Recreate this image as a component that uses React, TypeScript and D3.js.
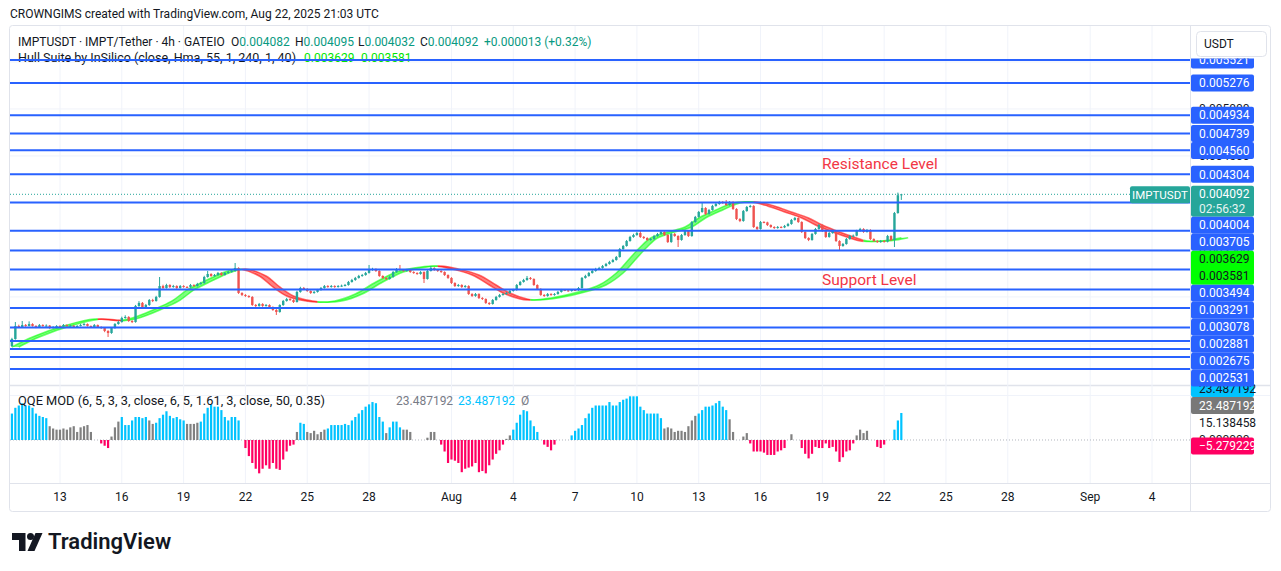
import React from 'react';
import * as d3 from 'd3';

const W = 1281;
const H = 571;
const FONT = "Roboto, 'Liberation Sans', Arial, sans-serif";

// 4h candles starting 2025-07-10 16:00 UTC, prices in millionths of USDT
const firstBar = Date.UTC(2025, 6, 10, 16);
const BAR_MS = 4 * 3600 * 1000;
const firstOpen = 2478;
const close = [
  2552, 2691, 2680, 2701, 2691, 2712, 2691, 2680, 2701, 2691,
  2695, 2669, 2680, 2691, 2688, 2701, 2691, 2694, 2680, 2691,
  2701, 2712, 2691, 2680, 2701, 2680, 2669, 2638, 2616, 2669,
  2712, 2733, 2776, 2787, 2744, 2733, 2904, 2936, 2882, 2914,
  2967, 2957, 3000, 3116, 3095, 3127, 3106, 3116, 3095, 3116,
  3106, 3104, 3127, 3116, 3138, 3148, 3212, 3244, 3223, 3233,
  3255, 3233, 3255, 3265, 3276, 3308, 3042, 3021, 3010, 3000,
  2914, 2904, 2925, 2904, 2914, 2893, 2861, 2840, 2914, 2957,
  2978, 2967, 2946, 3053, 3095, 3085, 3063, 3042, 3053, 3074,
  3095, 3116, 3106, 3116, 3106, 3116, 3120, 3127, 3159, 3180,
  3202, 3223, 3233, 3255, 3287, 3297, 3276, 3223, 3202, 3191,
  3212, 3265, 3297, 3287, 3276, 3287, 3265, 3255, 3244, 3265,
  3191, 3276, 3308, 3287, 3276, 3265, 3233, 3202, 3148, 3116,
  3127, 3106, 3116, 3031, 3010, 3031, 2989, 2978, 2936, 2925,
  2967, 3000, 3021, 3031, 3042, 3063, 3074, 3127, 3159, 3180,
  3202, 3191, 3127, 3085, 3021, 3010, 3031, 3021, 3031, 3053,
  3074, 3070, 3063, 3074, 3072, 3095, 3202, 3223, 3255, 3276,
  3297, 3308, 3329, 3351, 3372, 3393, 3425, 3510, 3542, 3595,
  3638, 3659, 3680, 3638, 3627, 3606, 3616, 3648, 3670, 3691,
  3659, 3584, 3670, 3648, 3606, 3659, 3702, 3648, 3797, 3851,
  3904, 3946, 3882, 3925, 3968, 3989, 4010, 3999, 3978, 4010,
  3936, 3829, 3808, 3914, 3957, 3968, 3744, 3723, 3797, 3793,
  3765, 3744, 3733, 3744, 3740, 3755, 3776, 3819, 3840, 3797,
  3691, 3627, 3606, 3670, 3723, 3765, 3702, 3638, 3680, 3702,
  3595, 3542, 3563, 3616, 3648, 3652, 3702, 3723, 3691, 3712,
  3616, 3595, 3584, 3595, 3588, 3648, 3606, 3893, 4082, 4092,
];
const high = [
  2565, 2733, 2705, 2744, 2712, 2740, 2720, 2699, 2712, 2709,
  2708, 2701, 2690, 2700, 2699, 2712, 2708, 2705, 2700, 2701,
  2714, 2725, 2718, 2697, 2712, 2707, 2688, 2675, 2646, 2678,
  2722, 2748, 2790, 2805, 2795, 2752, 2915, 2955, 2946, 2925,
  2978, 2980, 3012, 3212, 3130, 3140, 3135, 3128, 3124, 3127,
  3125, 3115, 3138, 3135, 3150, 3160, 3225, 3276, 3252, 3244,
  3266, 3262, 3265, 3276, 3288, 3361, 3315, 3050, 3030, 3018,
  3008, 2925, 2936, 2933, 2925, 2922, 2900, 2870, 2922, 2968,
  2990, 2988, 2975, 3065, 3108, 3106, 3093, 3070, 3064, 3085,
  3106, 3127, 3125, 3127, 3124, 3126, 3131, 3138, 3170, 3192,
  3213, 3235, 3245, 3266, 3340, 3310, 3305, 3284, 3230, 3210,
  3222, 3276, 3308, 3340, 3296, 3298, 3295, 3273, 3262, 3275,
  3272, 3287, 3329, 3316, 3295, 3284, 3272, 3240, 3210, 3156,
  3138, 3135, 3127, 3124, 3040, 3042, 3039, 2997, 2985, 2944,
  2978, 3011, 3032, 3042, 3053, 3074, 3086, 3138, 3170, 3192,
  3223, 3212, 3198, 3134, 3092, 3030, 3042, 3040, 3041, 3063,
  3085, 3084, 3078, 3084, 3083, 3106, 3212, 3236, 3266, 3288,
  3310, 3320, 3340, 3362, 3384, 3405, 3436, 3521, 3553, 3606,
  3650, 3672, 3692, 3702, 3648, 3635, 3627, 3660, 3681, 3703,
  3700, 3668, 3681, 3680, 3656, 3670, 3714, 3710, 3808, 3862,
  3915, 3999, 3955, 3936, 3980, 4000, 4022, 4020, 4031, 4020,
  4018, 3944, 3838, 3925, 3968, 3980, 3976, 3752, 3808, 3806,
  3800, 3772, 3752, 3755, 3753, 3766, 3788, 3830, 3852, 3848,
  3805, 3698, 3635, 3681, 3734, 3776, 3772, 3710, 3692, 3714,
  3710, 3603, 3574, 3627, 3660, 3664, 3714, 3735, 3731, 3723,
  3720, 3624, 3604, 3606, 3603, 3660, 3656, 3904, 4110, 4095,
];
const low = [
  2467, 2545, 2670, 2672, 2682, 2685, 2684, 2668, 2674, 2683,
  2684, 2660, 2662, 2675, 2680, 2683, 2684, 2686, 2672, 2675,
  2686, 2695, 2684, 2671, 2674, 2672, 2660, 2625, 2574, 2608,
  2662, 2705, 2726, 2768, 2735, 2722, 2726, 2895, 2872, 2875,
  2905, 2945, 2950, 2992, 3085, 3088, 3095, 3098, 3085, 3088,
  3098, 3095, 3098, 3108, 3110, 3130, 3140, 3205, 3214, 3215,
  3226, 3225, 3228, 3248, 3258, 3268, 3032, 3010, 3000, 2990,
  2905, 2893, 2896, 2895, 2897, 2884, 2852, 2808, 2832, 2905,
  2950, 2958, 2936, 2940, 3045, 3076, 3054, 3032, 3034, 3046,
  3066, 3088, 3098, 3099, 3097, 3100, 3108, 3112, 3120, 3152,
  3172, 3195, 3215, 3226, 3248, 3278, 3266, 3214, 3192, 3180,
  3184, 3205, 3258, 3278, 3267, 3268, 3256, 3246, 3235, 3237,
  3148, 3184, 3270, 3278, 3266, 3256, 3224, 3192, 3138, 3106,
  3108, 3096, 3098, 3022, 3000, 3002, 2978, 2968, 2926, 2914,
  2918, 2960, 2993, 3014, 3024, 3035, 3056, 3066, 3120, 3152,
  3172, 3182, 3118, 3075, 3012, 3000, 3002, 3012, 3013, 3024,
  3046, 3062, 3055, 3056, 3064, 3065, 3088, 3195, 3215, 3248,
  3268, 3290, 3300, 3322, 3344, 3365, 3386, 3418, 3502, 3535,
  3588, 3630, 3650, 3628, 3616, 3596, 3598, 3608, 3640, 3662,
  3650, 3574, 3576, 3640, 3531, 3598, 3650, 3638, 3640, 3790,
  3843, 3896, 3872, 3874, 3918, 3960, 3980, 3990, 3968, 3970,
  3926, 3818, 3796, 3800, 3906, 3950, 3734, 3712, 3716, 3784,
  3755, 3735, 3724, 3726, 3731, 3732, 3748, 3768, 3811, 3788,
  3680, 3616, 3594, 3598, 3662, 3715, 3692, 3628, 3630, 3672,
  3585, 3499, 3534, 3556, 3608, 3640, 3645, 3694, 3682, 3684,
  3606, 3586, 3575, 3576, 3578, 3580, 3596, 3531, 3885, 4032,
];

// Hull Suite (HMA 55) read at turning points and along the way, millionths
const hullBars = [
  0, 6, 16, 24, 31, 35, 39, 43, 47, 51, 55, 58, 62, 66, 72, 76, 80, 84, 88,
  94, 100, 106, 112, 117, 123, 128, 134, 139, 143, 148, 150, 157, 166, 171,
  176, 180, 183, 186, 191, 196, 200, 205, 210, 215, 220, 225, 230, 234, 239,
  244, 247, 254, 259,
];
const hullVals = [
  2467, 2574, 2701, 2765, 2748, 2776, 2829, 2893, 2967, 3074, 3148, 3202, 3265, 3297, 3223, 3106, 3010, 2967, 2946,
  2957, 3031, 3159, 3265, 3308, 3329, 3297, 3233, 3127, 3042, 2978, 2967, 2989, 3063, 3127,
  3255, 3414, 3531, 3627, 3691, 3744, 3840, 3925, 3999, 4010, 3968, 3904, 3840, 3765, 3691,
  3627, 3595, 3597, 3629,
];

// QQE MOD histogram, one value per candle
const qqeValues = [
  23, 28, 30, 32, 30, 30, 28, 23, 21, 20,
  19, 12, 10, 9, 9, 10, 9, 11, 12, 7,
  11, 12, 13, 7, 0, 0, -3, -5, -7, 3,
  11, 16, 20, 13, 13, 17, 20, 20, 19, 20,
  17, 14, 15, 19, 22, 25, 21, 19, 20, 18,
  17, 14, 14, 14, 15, 16, 23, 28, 31, 29,
  29, 26, 20, 17, 20, 20, 17, 0, -7, -14,
  -20, -25, -29, -25, -22, -25, -20, -25, -26, -17,
  -10, -5, -4, 7, 15, 14, 7, 6, 8, 5,
  7, 9, 10, 13, 13, 13, 13, 14, 13, 17,
  20, 23, 26, 29, 31, 33, 32, 20, 16, 6,
  11, 16, 16, 11, 9, 9, 7, 0, 0, 0,
  0, 2, 7, 7, 0, -4, -10, -20, -17, -18,
  -20, -28, -25, -24, -23, -20, -28, -27, -29, -22,
  -17, -12, -9, -4, 1, 4, 9, 15, 22, 26,
  25, 17, 12, 7, 0, -4, -6, -9, -4, 0,
  0, 0, 0, 4, 8, 10, 13, 19, 23, 28,
  30, 30, 30, 30, 33, 30, 30, 33, 35, 36,
  38, 38, 38, 29, 26, 23, 23, 23, 23, 19,
  10, 11, 10, 7, 8, 8, 7, 12, 17, 21,
  23, 26, 29, 29, 30, 32, 34, 29, 26, 18,
  7, 0, 0, 3, 6, -3, -10, -10, -10, -11,
  -13, -13, -13, -10, -9, -7, 0, 5, 0, 0,
  -7, -12, -16, -12, -6, -7, -7, -3, -7, -6,
  -10, -19, -15, -10, -9, -3, 4, 9, 6, 8,
  0, 0, -6, -7, -4, 0, 0, 9, 17, 23.487192,
];
// b = above threshold (blue), g = neutral (grey), r = below (red)
const qqeStates = (
  'bbbbbbbbbb' + 'bggggggggg' + 'ggggggrrrg' + 'ggbbbbbbbb' + 'ggbbbbbbbb' +
  'bggggbbbbb' + 'bbbbbbbgrr' + 'rrrrrrrrrr' + 'rrrgbbgggg' + 'ggbbbbbbbb' +
  'bbbbbbbbbg' + 'bbbbgggggg' + 'gggggrrrrr' + 'rrrrrrrrrr' + 'rrrrggbbbb' +
  'bbbbgrrrrg' + 'gggbbbbbbb' + 'bbbbbbbbbb' + 'bbbbbbbbbb' + 'gggggggggg' +
  'bbbbbbbbbg' + 'gggggrrrrr' + 'rrrrrrgggg' + 'rrrrrrrrrr' + 'rrrrrrgggg' +
  'ggrrrggbbb'
).split('');

// horizontal lines drawn on the chart
const levels = [
  0.005521, 0.005276, 0.004934, 0.004739, 0.004560, 0.004304, 0.004004, 0.003705,
  0.003494, 0.003291, 0.003078, 0.002881, 0.002675, 0.002531, 0.002446, 0.002361, 0.002233,
];
const priceTicks = [0.0025, 0.003, 0.0035, 0.004, 0.0045, 0.005, 0.0055];
const tickDays = [
  '2025-07-13', '2025-07-16', '2025-07-19', '2025-07-22', '2025-07-25', '2025-07-28',
  '2025-08-01', '2025-08-04', '2025-08-07', '2025-08-10', '2025-08-13', '2025-08-16',
  '2025-08-19', '2025-08-22', '2025-08-25', '2025-08-28', '2025-09-01', '2025-09-04',
];

const lastOHLC = [['O', 0.004082], ['H', 0.004095], ['L', 0.004032], ['C', 0.004092]] as const;
const lastChange = ['+0.000013', '(+0.32%)'];
const hullLast = [0.003629, 0.003581];
const qqeLast = [23.487192, 23.487192];
const qqeAxisExtra = 15.138458;
const qqeSignal = -5.279229;
const countdown = '02:56:32';

const GREEN = '#26a69a';
const RED = '#ef5350';
const BLUE = '#2962ff';
const TEXT = '#131722';

const xTime = d3
  .scaleUtc()
  .domain([new Date(Date.UTC(2025, 6, 13)), new Date(Date.UTC(2025, 8, 4))])
  .range([60, 1152]);
const barX = (i: number) => xTime(new Date(firstBar + i * BAR_MS));
const yP = d3.scaleLinear().domain([0.002063, 0.005872]).range([385, 27]);
const yQ = d3.scaleLinear().domain([-37.4, 46.96]).range([483, 386]);
const m = (v: number) => v * 1e-6;
const f6 = d3.format('.6f');
const minus = (s: string) => s.replace('-', '\u2212');

const hullLine = d3
  .line<[number, number]>()
  .x((d) => d[0])
  .y((d) => d[1])
  .curve(d3.curveCatmullRom.alpha(0.5));

function HullBand() {
  const a: [number, number][] = hullBars.map((b, k) => [barX(b), yP(m(hullVals[k]))]);
  const b: [number, number][] = hullBars.map((bb, k) => [barX(bb + 2), yP(m(hullVals[k]))]).reverse();
  const la = hullLine(a) as string;
  const lb = hullLine(b) as string;
  const band = la + 'L' + lb.slice(1) + 'Z';

  const runs: { from: number; to: number; up: boolean }[] = [];
  let start = 0;
  for (let k = 1; k < hullBars.length; k++) {
    const up = hullVals[k] >= hullVals[k - 1];
    const nextUp = k + 1 < hullBars.length ? hullVals[k + 1] >= hullVals[k] : !up;
    if (nextUp !== up) {
      runs.push({ from: hullBars[start], to: hullBars[k], up });
      start = k;
    }
  }
  return (
    <g>
      <defs>
        {runs.map((r, k) => {
          const x0 = k === 0 ? 0 : barX(r.from + 1);
          const x1 = k === runs.length - 1 ? W : barX(r.to + 1);
          return (
            <clipPath id={`hull-run-${k}`} key={k}>
              <rect x={x0} y={0} width={x1 - x0} height={H} />
            </clipPath>
          );
        })}
      </defs>
      {runs.map((r, k) => {
        const c = r.up ? '#00ff00' : '#ff0000';
        return (
          <g key={k} clipPath={`url(#hull-run-${k})`}>
            <path d={band} fill={c} fillOpacity={0.5} />
            <path d={la} fill="none" stroke={c} strokeOpacity={0.55} strokeWidth={1.5} />
            <path d={lb} fill="none" stroke={c} strokeOpacity={0.55} strokeWidth={1.5} />
          </g>
        );
      })}
    </g>
  );
}

function Candles() {
  return (
    <g>
      {close.map((c, i) => {
        const o = i === 0 ? firstOpen : close[i - 1];
        const col = c >= o ? GREEN : RED;
        const x = barX(i);
        const top = yP(m(Math.max(o, c)));
        const bot = yP(m(Math.min(o, c)));
        return (
          <g key={i}>
            <line x1={x} x2={x} y1={yP(m(high[i]))} y2={yP(m(low[i]))} stroke={col} strokeWidth={1} />
            <rect x={x - 1.2} y={top} width={2.4} height={Math.max(1, bot - top)} fill={col} />
          </g>
        );
      })}
    </g>
  );
}

function QQEBars() {
  const colors: Record<string, string> = { b: '#00c3ff', g: '#808080', r: '#ff0062' };
  const y0 = yQ(0);
  return (
    <g>
      <line x1={10} x2={1190} y1={y0} y2={y0} stroke="#b2b5be" strokeDasharray="1 2" />
      {qqeValues.map((v, i) => {
        if (v === 0) return null;
        const y = yQ(v);
        return (
          <rect
            key={i}
            x={barX(i) - 1.1}
            width={2.2}
            y={Math.min(y, y0)}
            height={Math.abs(y - y0)}
            fill={colors[qqeStates[i]]}
          />
        );
      })}
    </g>
  );
}

type Block = { want: number; rows: string[]; h: number; bg: string; fg: string[] };

function PriceLabels() {
  const blocks: Block[] = levels.map((p) => ({ want: yP(p), rows: [f6(p)], h: 17, bg: BLUE, fg: ['#fff'] }));
  blocks.push({ want: yP(lastOHLC[3][1]), rows: [f6(lastOHLC[3][1]), countdown], h: 31, bg: GREEN, fg: ['#fff', '#e6f4f2'] });
  blocks.push({ want: yP(hullLast[0]), rows: hullLast.map(f6), h: 34, bg: '#00ff00', fg: [TEXT, TEXT] });
  blocks.sort((a, b) => a.want - b.want);
  let prevBottom = -Infinity;
  const placed = blocks.map((b) => {
    const top = Math.max(b.want - 8.5, prevBottom);
    prevBottom = top + b.h;
    return { ...b, top };
  });
  return (
    <g clipPath="url(#axis-price-clip)">
      {placed.map((b, k) => (
        <g key={k}>
          <rect x={1191} y={b.top} width={63} height={b.h} rx={2} fill={b.bg} />
          {b.rows.map((r, j) => (
            <text
              key={j}
              x={1199}
              y={b.top + (b.h / b.rows.length) * (j + 0.5) + 4.2}
              fontSize={12}
              fill={b.fg[j]}
              fontFamily={FONT}
            >
              {r}
            </text>
          ))}
        </g>
      ))}
    </g>
  );
}

function QQELabels() {
  const items = [
    { v: qqeSignal, bg: '#ff0062', fg: '#fff' },
    { v: qqeAxisExtra, bg: 'none', fg: TEXT },
    { v: qqeLast[0], bg: '#787878', fg: '#fff' },
    { v: qqeLast[1], bg: '#00c3ff', fg: TEXT },
  ];
  let prevTop = Infinity;
  const placed = items.map((it) => {
    const bottom = Math.min(yQ(it.v) + 8.5, prevTop);
    prevTop = bottom - 17;
    return { ...it, top: bottom - 17 };
  });
  return (
    <g>
      <text x={1199} y={yQ(0) + 4.2} fontSize={12} fill={TEXT} fontFamily={FONT}>
        {f6(0)}
      </text>
      {placed.map((p, k) => (
        <g key={k}>
          {p.bg !== 'none' && <rect x={1191} y={p.top} width={63} height={17} rx={2} fill={p.bg} />}
          <text x={1199} y={p.top + 12.7} fontSize={12} fill={p.fg} fontFamily={FONT}>
            {minus(f6(p.v))}
          </text>
        </g>
      ))}
    </g>
  );
}

export default function App() {
  const ticks = tickDays.map((d) => new Date(d + 'T00:00:00Z'));
  const lastY = yP(lastOHLC[3][1]);
  return (
    <svg
      width={W}
      height={H}
      style={{ position: 'absolute', left: 0, top: 0, background: '#fff' }}
      fontFamily={FONT}
    >
      <defs>
        <clipPath id="price-pane">
          <rect x={10} y={27} width={1180} height={358} />
        </clipPath>
        <clipPath id="qqe-pane">
          <rect x={10} y={386} width={1180} height={97} />
        </clipPath>
        <clipPath id="axis-price-clip">
          <rect x={1190} y={58.5} width={80} height={328} />
        </clipPath>
      </defs>
      <rect width={W} height={H} fill="#fff" />

      <text x={10} y={18} fontSize={12} fill={TEXT}>
        CROWNGIMS created with TradingView.com, Aug 22, 2025 21:03 UTC
      </text>

      {/* frame */}
      <rect x={9.5} y={25.5} width={1261} height={486} rx={3} fill="none" stroke="#e0e3eb" />
      <line x1={1190.5} x2={1190.5} y1={26} y2={511} stroke="#e0e3eb" />
      <line x1={10} x2={1270} y1={385.5} y2={385.5} stroke="#e0e3eb" strokeWidth={1.5} />
      <line x1={10} x2={1270} y1={483.5} y2={483.5} stroke="#e0e3eb" />

      {/* grid */}
      {ticks.map((t, k) => (
        <line key={k} x1={xTime(t)} x2={xTime(t)} y1={26} y2={483} stroke="#f0f3fa" />
      ))}
      {priceTicks.map((p, k) => (
        <line key={k} x1={10} x2={1190} y1={yP(p)} y2={yP(p)} stroke="#f0f3fa" />
      ))}
      <line x1={10} x2={1270} y1={395.5} y2={395.5} stroke="#f0f3fa" />

      {/* legend */}
      <g fontSize={12}>
        <text x={18} y={46} fill={TEXT}>
          IMPTUSDT · IMPT/Tether · 4h · GATEIO
        </text>
        {lastOHLC.map(([k, v], i) => (
          <text key={k} x={[231, 295, 358, 420][i]} y={46} fill={TEXT}>
            {k}
            <tspan fill="#089981">{f6(v)}</tspan>
          </text>
        ))}
        <text x={484} y={46} fill="#089981">
          {lastChange.join(' ')}
        </text>
        <text x={18} y={62} fill={TEXT} textLength={278} lengthAdjust="spacingAndGlyphs">
          Hull Suite by InSilico (close, Hma, 55, 1, 240, 1, 40)
        </text>
        <text x={304} y={62} fill="#00e600">
          {f6(hullLast[0])}
        </text>
        <text x={361} y={62} fill="#00e600">
          {f6(hullLast[1])}
        </text>
      </g>

      {/* price pane */}
      <g clipPath="url(#price-pane)">
        <HullBand />
        <Candles />
        {levels.map((p, k) => (
          <line key={k} x1={10} x2={1190} y1={yP(p)} y2={yP(p)} stroke={BLUE} strokeWidth={2} />
        ))}
        <line x1={10} x2={1130} y1={lastY} y2={lastY} stroke={GREEN} strokeDasharray="1 2" />
        <text x={822} y={169} fontSize={15.5} fill="#f23645">
          Resistance Level
        </text>
        <text x={822} y={285} fontSize={15.5} fill="#f23645">
          Support Level
        </text>
        <rect x={1130} y={lastY - 8} width={60} height={17} rx={2} fill={GREEN} />
        <text x={1160} y={lastY + 4.5} fontSize={11.5} fill="#fff" textAnchor="middle">
          IMPTUSDT
        </text>
      </g>

      {/* QQE pane */}
      <g clipPath="url(#qqe-pane)">
        <QQEBars />
      </g>
      <g fontSize={12}>
        <text x={18} y={405} fill={TEXT} textLength={307} lengthAdjust="spacingAndGlyphs">
          QQE MOD (6, 5, 3, 3, close, 6, 5, 1.61, 3, close, 50, 0.35)
        </text>
        <text x={396} y={405} fill="#787b86">
          {f6(qqeLast[0])}
        </text>
        <text x={458} y={405} fill="#00c3ff">
          {f6(qqeLast[1])}
        </text>
        <text x={521} y={405} fill="#787b86">
          Ø
        </text>
      </g>

      {/* right axis */}
      <g clipPath="url(#axis-price-clip)">
        {priceTicks.map((p, k) => (
          <text key={k} x={1199} y={yP(p) + 4.2} fontSize={12} fill={TEXT}>
            {f6(p)}
          </text>
        ))}
      </g>
      <QQELabels />
      <PriceLabels />
      <rect x={1196.5} y={31.5} width={70} height={25} rx={4} fill="#fff" stroke="#e0e3eb" />
      <text x={1204} y={48} fontSize={12} fill={TEXT}>
        USDT
      </text>

      {/* time axis */}
      {ticks.map((t, k) => (
        <text key={k} x={xTime(t)} y={501} fontSize={12} fill={TEXT} textAnchor="middle">
          {t.getUTCDate() === 1 ? d3.utcFormat('%b')(t) : d3.utcFormat('%-d')(t)}
        </text>
      ))}

      {/* logo */}
      <g fill="#131722">
        <path d="M12,533 h13.5 v18 h-6.5 v-11 h-7 z" />
        <circle cx={30.5} cy={536.5} r={3.5} />
        <path d="M35.5,533 h7 l-8,18 h-7 z" />
        <text x={48} y={549} fontSize={22} fontWeight={600}>
          TradingView
        </text>
      </g>
    </svg>
  );
}
